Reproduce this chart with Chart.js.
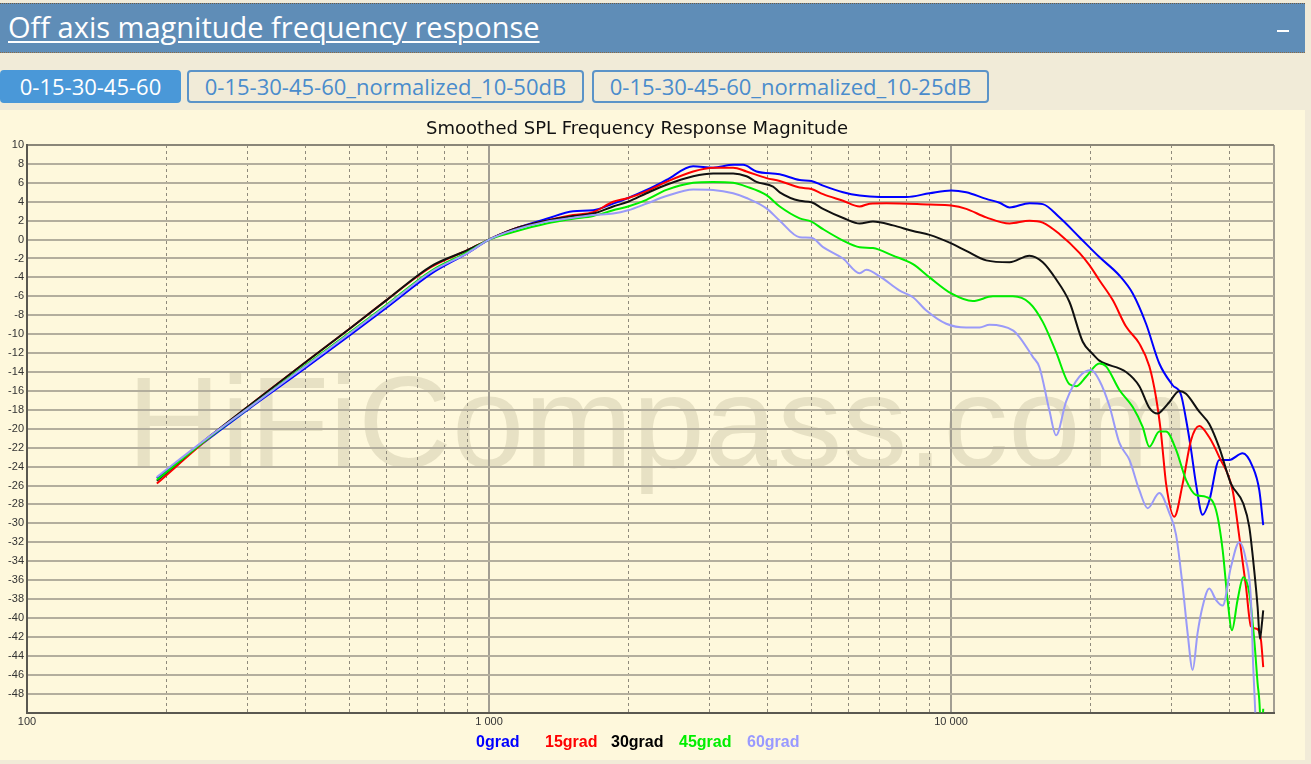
<!DOCTYPE html>
<html>
<head>
<meta charset="utf-8">
<script src="https://cdn.jsdelivr.net/npm/chart.js@4.4.1/dist/chart.umd.min.js"></script>
<style>
  body { margin:0; width:1311px; height:764px; overflow:hidden; position:relative; background:#f1ebd8; font-family:"Open Sans", sans-serif; }
  #bar { position:absolute; left:0; top:3px; width:1305px; height:48px; background:#5f8db7; border-top:1px dotted #6b5a45; border-bottom:1px dotted #8a6a45; }
  #bar h2 { margin:0; position:absolute; left:8px; top:4px; font-weight:400; font-size:29px; line-height:38px; color:#fff; text-decoration:underline; text-decoration-thickness:2px; text-underline-offset:3px; }
  #bar .min { position:absolute; left:1277px; top:26px; width:12px; height:2px; background:#fff; }
  .tab { position:absolute; top:70px; height:33px; box-sizing:border-box; border:2px solid #5b93c8; border-radius:4px; color:#4a8ccc; font-size:22px; line-height:29px; text-align:center; }
  .tab.on { background:#4a98d8; border-color:#4a98d8; color:#fff; }
  #panel { position:absolute; left:0; top:110px; width:1305px; height:650px; background:#fef8dc; }
  #panel canvas { position:absolute; left:0; top:0; }
  #legend span { position:absolute; top:623px; font:bold 16px "Liberation Sans", Arial, sans-serif; }
</style>
</head>
<body>
<div id="bar"><h2>Off axis magnitude frequency response</h2><div class="min"></div></div>
<div class="tab on" style="left:0;width:181px">0-15-30-45-60</div>
<div class="tab" style="left:187px;width:397px">0-15-30-45-60_normalized_10-50dB</div>
<div class="tab" style="left:592px;width:397px">0-15-30-45-60_normalized_10-25dB</div>
<div id="panel">
  <canvas id="mycanvas" width="1277" height="650"></canvas>
  <div id="legend">
    <span style="left:476px;color:#0000ff">0grad</span>
    <span style="left:545px;color:#ff0000">15grad</span>
    <span style="left:611px;color:#000000">30grad</span>
    <span style="left:679px;color:#00ee00">45grad</span>
    <span style="left:747px;color:#9999ff">60grad</span>
  </div>
</div>
<script>
// frequency (Hz) / level (dB)
var freqBlue = [191,250,300,400,500,600,750,900,1000,1129,1332,1521,1680,1856,2000,2192,2421,2766,3055,3375,3548,3792,4258,4703,4986,5284,5837,6341,7009,8004,8985,10009,10786,11915,12735,13386,14781,15794,17157,18961,20942,23142,24730,26427,28232,30171,31454,32251,33069,33886,35032,36215,38065,40008,42752,44940,46467,47390];
var dbBlue = [-25.2,-20.9,-18.0,-13.6,-10.1,-7.2,-3.6,-1.4,0,1.1,2.2,3.0,3.1,3.8,4.4,5.25,6.3,7.75,7.6,7.9,7.9,7.2,6.9,6.3,6.2,5.7,5.0,4.65,4.5,4.5,4.9,5.2,5.0,4.3,3.9,3.4,3.85,3.75,2.35,0.25,-1.85,-3.8,-5.7,-8.9,-13.1,-15.4,-16.4,-19.0,-22.2,-25.8,-29.1,-27.6,-23.3,-23.3,-22.6,-24.0,-26.5,-30.2];

var freqRed = [191,250,300,400,500,600,750,900,1000,1129,1332,1521,1680,1856,2000,2192,2421,2766,3055,3375,3608,3986,4258,4703,4986,5284,5837,6341,6666,7245,8985,10009,10786,11915,13386,14781,15794,17157,18961,19926,20942,22382,23921,25559,26862,27777,28476,28704,29198,30419,31721,33069,34452,36215,38065,40676,42055,43482,44575,46072,46847,47390];
var dbRed = [-25.8,-20.8,-17.7,-13.0,-9.4,-6.4,-2.9,-1.1,0,1.1,2.0,2.6,2.9,4.0,4.4,5.1,6.1,7.2,7.6,7.6,7.2,6.5,6.2,5.5,5.35,4.8,4.1,3.5,3.8,3.85,3.7,3.6,3.25,2.35,1.7,2.0,1.8,0.6,-1.4,-2.7,-4.3,-6.4,-9.2,-11.0,-13.4,-16.7,-20.5,-22.2,-25.8,-29.3,-25.8,-21.2,-19.7,-20.9,-23.0,-26.5,-31.4,-36.7,-40.9,-41.2,-42.3,-45.2];

var freqBlack = [191,250,300,400,500,600,750,900,1000,1129,1332,1521,1680,1856,2000,2192,2421,2766,3055,3375,3608,3792,4118,4258,4703,4986,5284,5896,6341,6777,7490,8271,8985,10009,10786,11915,13386,14781,15794,16878,18042,19276,20258,20942,23921,25559,26862,27994,28704,29670,31197,32251,34452,36215,38065,40350,42900,44210,45311,46072,46610,46986,47390];
var dbBlack = [-25.5,-20.7,-17.7,-13.0,-9.4,-6.4,-2.8,-1.1,0,1.1,2.0,2.5,2.75,3.5,4.0,4.9,5.8,6.7,7.0,7.0,6.7,6.1,5.6,5.0,4.1,3.95,3.25,2.2,1.7,1.9,1.5,0.9,0.5,-0.4,-1.2,-2.2,-2.4,-1.7,-2.4,-4.2,-6.6,-10.8,-12.1,-12.8,-14.0,-15.5,-17.8,-18.4,-18.0,-17.2,-16.0,-16.3,-18.2,-19.5,-22.0,-25.8,-27.9,-30.4,-35.0,-38.8,-42.2,-41.0,-39.2];

var freqGreen = [191,250,300,400,500,600,750,900,1000,1129,1332,1521,1680,1856,2000,2192,2421,2766,3055,3375,3608,3986,4258,4703,4986,5284,5837,6341,6777,7490,8271,8985,10009,11146,12315,13608,14781,15794,16878,18042,18653,19598,20942,21651,23142,24730,25982,26862,28232,29198,30685,32251,33886,35632,37447,38708,39672,40548,41699,42900,44210,45311,46072,46610,46847,47390];
var dbGreen = [-25.4,-20.8,-17.9,-13.3,-9.8,-6.9,-3.3,-1.3,0,0.8,1.7,2.2,2.5,3.1,3.5,4.2,5.25,6.0,6.1,6.0,5.6,4.7,3.5,2.25,1.9,1.1,-0.1,-0.8,-0.9,-1.7,-2.6,-4.0,-5.7,-6.5,-6.0,-6.0,-6.7,-8.7,-11.9,-15.3,-15.5,-14.5,-13.1,-13.4,-15.9,-17.7,-19.8,-21.9,-20.3,-20.3,-22.2,-25.4,-27.0,-27.2,-28.6,-32.8,-38.1,-41.3,-38.1,-35.7,-37.4,-42.3,-46.9,-49.9,-54,-49.6];

var freqPurple = [191,250,300,400,500,600,750,900,1000,1129,1332,1521,1680,1856,2000,2192,2421,2766,3055,3375,3608,3986,4258,4703,4986,5284,5837,6341,6557,7009,7740,8271,8840,9763,10786,11524,12113,13608,14061,15031,15535,16330,16878,17746,18961,20093,20942,22018,23142,24327,25559,26645,28232,29670,30685,31721,32508,33336,34163,35032,36215,37447,38708,40350,42055,43482,44575,45084,45538,45900];
var dbPurple = [-25.1,-20.7,-17.9,-13.4,-9.9,-7.0,-3.4,-1.4,0,1.0,1.9,2.3,2.6,2.75,3.1,3.8,4.6,5.3,5.25,4.9,4.4,3.3,2.0,0.25,0.2,-0.8,-2.0,-3.55,-3.2,-3.9,-5.4,-6.1,-7.5,-8.9,-9.3,-9.3,-9.0,-9.6,-10.3,-12.4,-13.5,-18.1,-20.7,-17.1,-14.5,-13.8,-14.9,-17.6,-21.5,-23.3,-26.5,-28.4,-26.8,-28.9,-31.2,-36.7,-41.6,-45.5,-41.6,-38.8,-36.9,-38.1,-38.7,-34.6,-32.0,-33.9,-38.1,-45.2,-49.9,-55];

var xTicks = [100,200,300,400,500,600,700,800,900,1000,2000,3000,4000,5000,6000,7000,8000,9000,10000,20000,30000,40000,50000];
var xLabels = {100:'100', 1000:'1 000', 10000:'10 000'};

function pts(f, d) {
    var out = [];
    for (var i in f) out.push({x: f[i], y: d[i]});
    return out;
}

// grey site watermark under the grid
var watermark = {
    id: 'watermark',
    beforeDraw: function(chart) {
        var c = chart.ctx;
        c.save();
        c.font = '130px "Liberation Sans", Arial, sans-serif';
        c.fillStyle = 'rgba(120,110,80,0.17)';
        c.textBaseline = 'alphabetic';
        c.fillText('HiFiCompass.com', 127, 357);
        c.restore();
    }
};

var ctx = document.getElementById('mycanvas');
var chart = new Chart(ctx, {
    type: 'line',
    data: {
        datasets: [
            {label: '0grad', data: pts(freqBlue, dbBlue), borderColor: '#0000ff'},
            {label: '15grad', data: pts(freqRed, dbRed), borderColor: '#ff0000'},
            {label: '30grad', data: pts(freqBlack, dbBlack), borderColor: '#111111'},
            {label: '45grad', data: pts(freqGreen, dbGreen), borderColor: '#00ee00'},
            {label: '60grad', data: pts(freqPurple, dbPurple), borderColor: '#9a9af8'}
        ].reverse()
    },
    options: {
        responsive: false,
        animation: false,
        layout: {padding: {left: 0, right: 3, top: 0, bottom: 0}},
        elements: {
            point: {radius: 0},
            line: {borderWidth: 2, cubicInterpolationMode: 'monotone', fill: false}
        },
        plugins: {
            legend: {display: false},
            tooltip: {enabled: false},
            title: {
                display: true,
                text: 'Smoothed SPL Frequency Response Magnitude',
                color: '#111',
                font: {family: 'DejaVu Sans', size: 18, weight: 'normal'},
                padding: {top: 9, bottom: 4.4}
            }
        },
        scales: {
            x: {
                type: 'logarithmic',
                min: 100,
                max: 50000,
                afterBuildTicks: function(s) {
                    s.ticks = xTicks.map(function(v){ return {value: v}; });
                },
                afterFit: function(s) { s.height = 47.5; },
                ticks: {
                    autoSkip: false,
                    maxRotation: 0,
                    padding: 3,
                    color: '#333',
                    font: {family: 'Liberation Sans', size: 11},
                    callback: function(v) { return xLabels[v] || ''; }
                },
                grid: {
                    drawTicks: false,
                    color: function(c) {
                        var v = c.tick && c.tick.value;
                        return (v === 1000 || v === 10000 || v === 50000) ? '#a29e92' : '#8f8a7c';
                    },
                    lineWidth: function(c) {
                        var v = c.tick && c.tick.value;
                        return (v === 1000 || v === 10000 || v === 50000) ? 2 : 1;
                    }
                },
                border: {
                    color: '#5a5850',
                    width: 2,
                    dash: function(c) {
                        var v = c.tick && c.tick.value;
                        if (!c.tick || v === 1000 || v === 10000 || v === 50000 || v === 100) return [];
                        return [3, 3];
                    }
                }
            },
            y: {
                min: -50,
                max: 10,
                afterFit: function(s) { s.width = 27; },
                ticks: {
                    stepSize: 2,
                    padding: 3,
                    color: '#333',
                    font: {family: 'Liberation Sans', size: 11},
                    callback: function(v) { return v === -50 ? '' : v; }
                },
                grid: {
                    drawTicks: false,
                    color: function(c) { return c.tick && c.tick.value === 10 ? '#8a8678' : '#b3ae9d'; },
                    lineWidth: 2
                },
                border: {color: '#5a5850', width: 2}
            }
        }
    },
    plugins: [watermark]
});
</script>
</body>
</html>
